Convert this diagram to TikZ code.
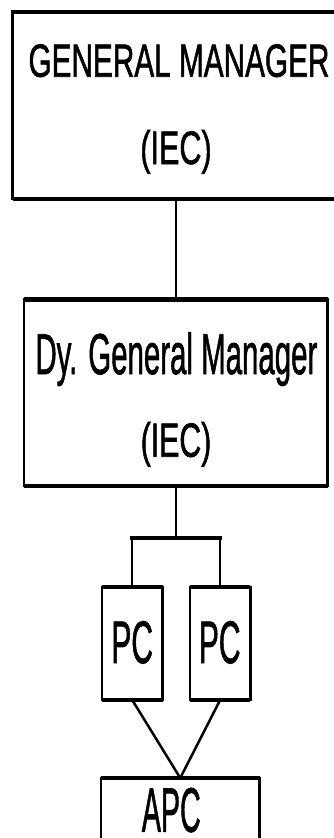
\documentclass[tikz,border=0pt]{standalone}
\usepackage{graphicx}
\usepackage{fontspec}
\newfontfamily\chartfont[FakeBold=1.5]{Liberation Sans}
% condensed text: #1 horizontal factor, #2 font size (pt), #3 text
\newcommand\condensed[3]{\scalebox{#1}[1]{\fontsize{#2pt}{#2pt}\selectfont\chartfont #3}}
\tikzset{
  box/.style={draw, line width=2.6pt, inner sep=0pt, outer sep=0pt, fill=white},
  hedge/.style={line width=4.2pt},
  link/.style={line width=2.3pt},
  bar/.style={line width=3.8pt},
  slant/.style={line width=2.5pt},
  label/.style={anchor=base, inner sep=0pt, outer sep=0pt},
}
\begin{document}
\begin{tikzpicture}[x=1pt, y=-1pt]
  \useasboundingbox (0,0) rectangle (334,838);
  \clip (0,0) rectangle (334,838);
  \fill[white] (0,0) rectangle (334,838);

  % boxes
  \node[box, minimum width=327.5pt, minimum height=187.3pt] (gm)  at (176.25,105.35) {};
  \node[box, minimum width=303.5pt, minimum height=186.5pt] (dgm) at (175.75,392.75) {};
  \node[box, minimum width=60.5pt,  minimum height=113pt]   (pc1) at (132.25,643.5) {};
  \node[box, minimum width=60.3pt,  minimum height=113pt]   (pc2) at (220.15,643.5) {};
  \node[box, minimum width=158.5pt, minimum height=122pt]   (apc) at (180.25,839) {};

  % heavier horizontal edges
  \foreach \b in {gm,dgm,pc1,pc2,apc}{
    \draw[hedge] (\b.north west) -- (\b.north east);
    \draw[hedge] (\b.south west) -- (\b.south east);
  }

  % texts
  \node[label] (gmA)  at (179,76.7)   {\condensed{0.64}{46.5}{GENERAL MANAGER}};
  \node[label] (gmB)  at (176,164)    {\condensed{0.65}{47}{(IEC)}};
  \node[label] (dgmA) at (176.4,374)  {\condensed{0.51}{57.7}{Dy. General Manager}};
  \node[label] (dgmB) at (176,456.7)  {\condensed{0.63}{48}{(IEC)}};
  \node[label] (pcA)  at (132.2,663)  {\condensed{0.5}{60}{PC}};
  \node[label] (pcB)  at (219.7,663)  {\condensed{0.5}{60}{PC}};
  \node[label] (apcA) at (171.3,831.7){\condensed{0.456}{62.8}{APC}};

  % connectors
  \coordinate (split) at (176.5,538);
  \draw[link] (dgm.north) -- (dgm.north |- gm.south);
  \draw[link] (dgm.south) -- (dgm.south |- split);
  \draw[link] (pc1.north) -- (pc1.north |- split);
  \draw[link] (pc2.north) -- (pc2.north |- split);
  \draw[bar, line cap=rect] (pc1.north |- split) -- (pc2.north |- split);
  \draw[slant] (pc1.south) -- (apc.north);
  \draw[slant] (pc2.south) -- (apc.north);
\end{tikzpicture}
\end{document}
